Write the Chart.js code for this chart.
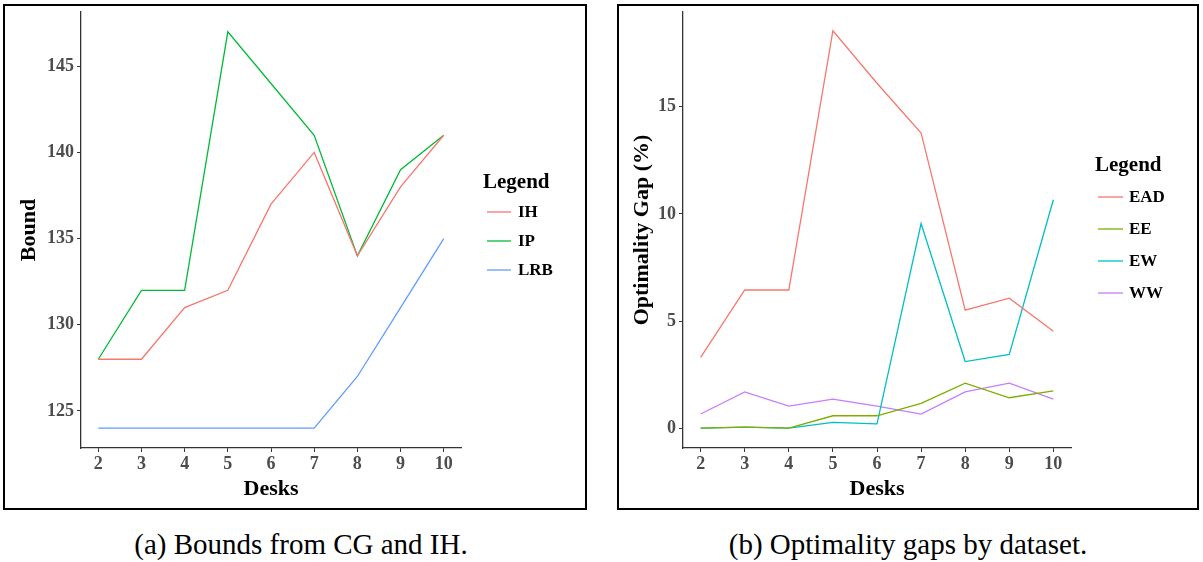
<!DOCTYPE html>
<html>
<head>
<meta charset="utf-8">
<script src="https://cdn.jsdelivr.net/npm/chart.js@4.4.1/dist/chart.umd.min.js"></script>
<style>
  html, body { margin: 0; padding: 0; background: #fff; }
  body { width: 1203px; height: 562px; position: relative; overflow: hidden; }
  .panel { position: absolute; box-sizing: border-box; border: 2px solid #000; background: #fff; }
  .panel canvas { display: block; }
  .cap { position: absolute; font-family: 'Liberation Serif', 'Times New Roman', serif; font-size: 29px; color: #000; white-space: nowrap; transform: translateX(-50%); line-height: 1; }
</style>
</head>
<body>
<div class="panel" id="pa" style="left:3px; top:4px; width:584px; height:506px;"><canvas id="ca" width="580" height="502"></canvas></div>
<div class="panel" id="pb" style="left:617px; top:4px; width:582px; height:506px;"><canvas id="cb" width="578" height="502"></canvas></div>
<div class="cap" style="left:301px; top:530px;">(a) Bounds from CG and IH.</div>
<div class="cap" style="left:908px; top:530px;">(b) Optimality gaps by dataset.</div>
<script>
// ---- data ----
const desks = [2, 3, 4, 5, 6, 7, 8, 9, 10];
const boundIH  = [128, 128, 131, 132, 137, 140, 134, 138, 141];
const boundIP  = [128, 132, 132, 147, 144, 141, 134, 139, 141];
const boundLRB = [124, 124, 124, 124, 124, 124, 127, 131, 135];
const boundTicks = [125, 130, 135, 140, 145];

const gapEAD = [3.3, 6.45, 6.45, 18.55, 16.1, 13.78, 5.51, 6.07, 4.52];
const gapEE  = [0, 0.05, 0, 0.58, 0.58, 1.16, 2.1, 1.42, 1.74];
const gapEW  = [0, 0.05, 0, 0.27, 0.2, 9.55, 3.11, 3.44, 10.66];
const gapWW  = [0.66, 1.69, 1.03, 1.36, 1.03, 0.66, 1.69, 2.1, 1.36];
const gapTicks = [0, 5, 10, 15];

const FONT = "'Liberation Serif', 'Times New Roman', serif";

const pts = arr => desks.map((d, i) => ({ x: d, y: arr[i] }));
const ds = (label, arr, color) => ({
  label, data: pts(arr), borderColor: color, backgroundColor: color,
  borderWidth: 1.3, pointRadius: 0, pointHoverRadius: 0, tension: 0, fill: false
});

const ggLegend = {
  id: 'ggLegend',
  afterDraw(chart, args, o) {
    const ctx = chart.ctx, ca = chart.chartArea;
    ctx.save();
    ctx.textBaseline = 'middle';
    ctx.textAlign = 'left';
    ctx.fillStyle = '#000';
    ctx.font = 'bold 21px ' + FONT;
    ctx.fillText(o.title, ca.right + o.titleDx, o.titleY);
    ctx.font = 'bold 17px ' + FONT;
    chart.data.datasets.forEach((d, i) => {
      const y = o.firstY + i * o.step;
      ctx.strokeStyle = d.borderColor;
      ctx.lineWidth = 1.3;
      ctx.beginPath();
      ctx.moveTo(ca.right + o.keyDx, y);
      ctx.lineTo(ca.right + o.keyDx + o.keyLen, y);
      ctx.stroke();
      ctx.fillStyle = '#000';
      ctx.fillText(d.label, ca.right + o.textDx, y + 1);
    });
    ctx.restore();
  }
};

function makeScales(xTicks, yTicks, ymin, ymax, yTitle, yWidth) {
  const tickFont = { family: FONT, size: 18, weight: 'bold' };
  const titleFont = { family: FONT, size: 22, weight: 'bold' };
  const grid = { drawOnChartArea: false, drawTicks: true, tickLength: 4, color: '#333', lineWidth: 1 };
  const border = { display: true, color: '#333', width: 1.3 };
  return {
    x: {
      type: 'linear', min: 1.6, max: 10.4,
      afterBuildTicks: s => { s.ticks = xTicks.map(v => ({ value: v })); },
      afterFit: s => { s.height = 55; s.paddingLeft = 0; s.paddingRight = 0; },
      grid, border,
      ticks: { font: tickFont, color: '#4d4d4d', padding: 2, maxRotation: 0, autoSkip: false },
      title: { display: true, text: 'Desks', font: titleFont, color: '#000', padding: 0 }
    },
    y: {
      type: 'linear', min: ymin, max: ymax,
      afterBuildTicks: s => { s.ticks = yTicks.map(v => ({ value: v })); },
      afterFit: s => { s.width = yWidth; s.paddingTop = 0; s.paddingBottom = 0; },
      grid, border,
      ticks: { font: tickFont, color: '#4d4d4d', padding: 3, autoSkip: false },
      title: { display: true, text: yTitle, font: titleFont, color: '#000', padding: 0 }
    }
  };
}

new Chart(document.getElementById('ca'), {
  type: 'line',
  data: { datasets: [ds('IH', boundIH, '#F8766D'), ds('IP', boundIP, '#00BA38'), ds('LRB', boundLRB, '#619CFF')] },
  options: {
    responsive: false, animation: false, events: [],
    layout: { padding: { left: 11, right: 124, top: 6, bottom: 5 } },
    plugins: {
      legend: { display: false }, tooltip: { enabled: false },
      ggLegend: { title: 'Legend', titleDx: 22, titleY: 177, keyDx: 26, keyLen: 24, textDx: 57, firstY: 206, step: 29 }
    },
    scales: makeScales(desks, boundTicks, 122.85, 148.15, 'Bound', 65)
  },
  plugins: [ggLegend]
});

new Chart(document.getElementById('cb'), {
  type: 'line',
  data: { datasets: [ds('EAD', gapEAD, '#F8766D'), ds('EE', gapEE, '#7CAE00'), ds('EW', gapEW, '#00BFC4'), ds('WW', gapWW, '#C77CFF')] },
  options: {
    responsive: false, animation: false, events: [],
    layout: { padding: { left: 10, right: 126, top: 6, bottom: 5 } },
    plugins: {
      legend: { display: false }, tooltip: { enabled: false },
      ggLegend: { title: 'Legend', titleDx: 24, titleY: 160, keyDx: 27, keyLen: 25, textDx: 58, firstY: 191, step: 32 }
    },
    scales: makeScales(desks, gapTicks, -0.925, 19.425, 'Optimality Gap (%)', 54)
  },
  plugins: [ggLegend]
});
</script>
</body>
</html>
